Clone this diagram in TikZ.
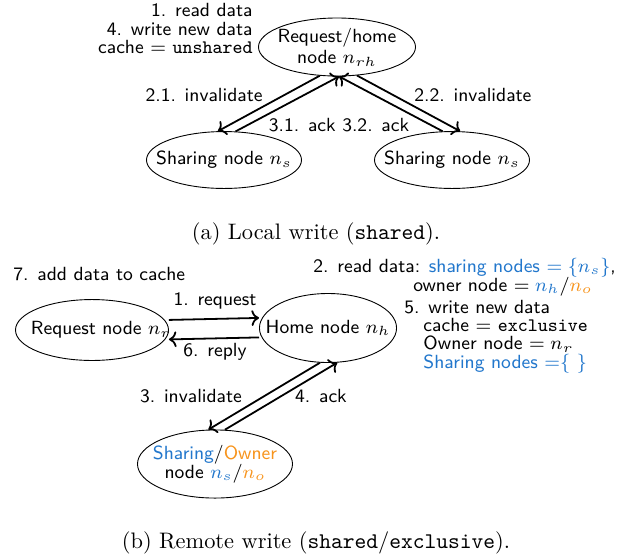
\RequirePackage{fix-cm}
\documentclass[tikz,border=0pt]{standalone}
\usepackage{tikz}
\usetikzlibrary{shapes.geometric, arrows.meta, positioning}
\definecolor{colSharing}{HTML}{2277CC}
\definecolor{colOwner}{HTML}{F7941D}

\begin{document}
\begin{tikzpicture}[x=0.4464pt, y=-0.4464pt, font=\sffamily\fontsize{8.5}{10.2}\selectfont, >=To,
        nd/.style={ellipse, draw, inner xsep=-16pt, inner ysep=-2pt, align=center},
        tr/.style={->, thick},
        lbl/.style={inner sep=0pt},
        capt/.style={font=\rmfamily\normalsize, inner sep=0pt}]
    \useasboundingbox (0,0) rectangle (639,558);
    % (a) local write
    \node[nd, minimum width=70.1pt, minimum height=25.9pt] (rh) at (337,47) {Request/home\\[-0.8pt] node $n_{rh}$};
    \node[nd, minimum width=69.2pt, minimum height=25.4pt] (s1) at (224,160) {Sharing node $n_s$};
    \node[nd, minimum width=69.2pt, minimum height=25.4pt] (s2) at (452,160) {Sharing node $n_s$};
    \node[lbl, align=right, anchor=east] (rhtxt) at (253,28.5) {1. read data\\[-1.9pt] 4. write new data\\[-1.9pt] cache $=$ \texttt{unshared}};
    \draw[tr] (rh.239) -- (s1.102);
    \draw[tr] (s1.68) -- (rh.274);
    \draw[tr] (rh.305) -- (s2.74);
    \draw[tr] (s2.108) -- (rh.274);
    \node[lbl, anchor=east] (inv1) at (263,95) {2.1. invalidate};
    \node[lbl, anchor=west] (inv2) at (414,95) {2.2. invalidate};
    \node[lbl] (ack12) at (339,125) {3.1. ack 3.2. ack};
    \node[capt] (capa) at (316,234) {(a) Local write (\texttt{shared}).};
    % (b) remote write
    \node[nd, minimum width=68.3pt, minimum height=27.2pt] (rq) at (92,330) {\hspace*{8pt}Request node $n_r$};
    \node[nd, minimum width=61.2pt, minimum height=30.8pt] (hm) at (328,328) {Home node $n_h$};
    \node[nd, minimum width=69.2pt, minimum height=30.4pt] (so) at (215,464)
        {\textcolor{colSharing}{Sharing}/\textcolor{colOwner}{Owner}\\[-1.7pt] node $\textcolor{colSharing}{n_s}/\textcolor{colOwner}{n_o}$};
    \node[lbl, anchor=west] (add) at (13,274) {7. add data to cache};
    \draw[tr] ([yshift=4.5pt]rq.east) -- ([yshift=4.5pt]hm.west);
    \draw[tr] ([yshift=-4.2pt]hm.west) -- ([yshift=-4.2pt]rq.east);
    \node[lbl] (req) at (215,301) {1. request};
    \node[lbl] (rep) at (215,352) {6. reply};
    \draw[tr] (hm.257) -- (so.101);
    \draw[tr] (so.74) -- (hm.285);
    \node[lbl] (inv) at (191,396) {3. invalidate};
    \node[lbl] (ack) at (321,396) {4. ack};
    \node[lbl, align=left, anchor=west] (rd) at (313,277)
        {2. read data: \textcolor{colSharing}{sharing nodes $=\{n_s\}$},\\[-1.7pt]
         \hspace*{44.6pt}owner node $=\textcolor{colSharing}{n_h}/\textcolor{colOwner}{n_o}$};
    \node[lbl, align=left, anchor=west] (wr) at (404,337)
        {5. write new data\\[-2.1pt]
         \hspace*{8.5pt}cache $=$ \texttt{exclusive}\\[-2.1pt]
         \hspace*{8.5pt}Owner node $=n_r$\\[-1.8pt]
         \hspace*{8.5pt}\textcolor{colSharing}{Sharing nodes $=$$\{\ \}$}};
    \node[capt] (capb) at (316,543) {(b) Remote write (\texttt{shared}/\texttt{exclusive}).};
\end{tikzpicture}
\end{document}
